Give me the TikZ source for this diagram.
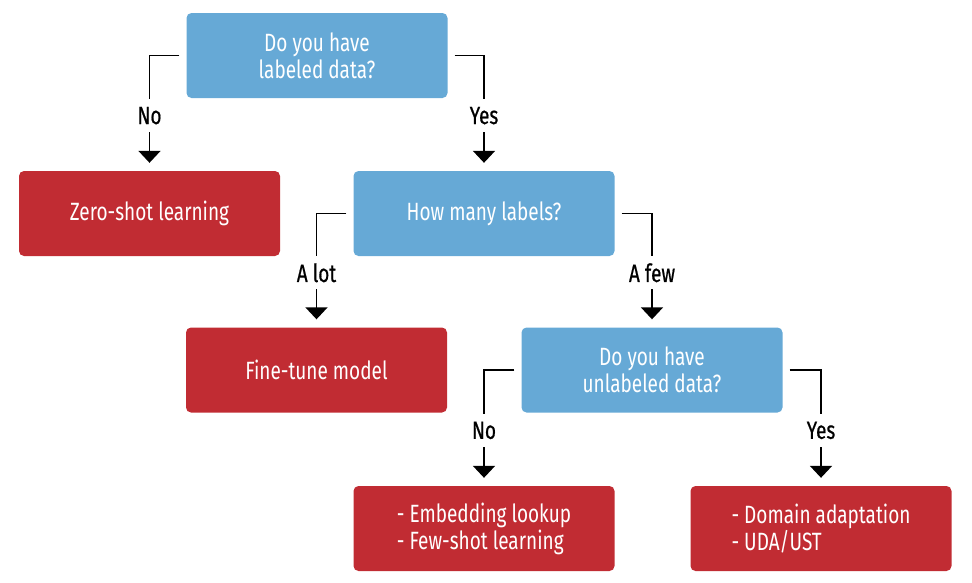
\documentclass[tikz,border=0pt]{standalone}
\usepackage{fontspec}
\setmainfont{Fira Sans}[FakeStretch=0.76]
\newfontfamily\answerfont{Fira Sans}[FakeStretch=0.76, FakeBold=0.6]
\usetikzlibrary{arrows.meta,positioning}

\definecolor{askblue}{RGB}{102,169,214}
\definecolor{pickred}{RGB}{193,44,51}

\tikzset{
  ask/.style={fill=askblue, rounded corners=5pt, minimum width=261pt,
    minimum height=85pt, text=white, align=center,
    font=\fontsize{25}{27}\selectfont},
  pick/.style={ask, fill=pickred},
  flow/.style={line width=1.9pt, -{Triangle[width=22pt,length=12pt]}},
  answer/.style={pos=0.78, fill=white, inner sep=0pt, minimum height=33pt,
    font=\answerfont\fontsize{25}{27}\selectfont}
}

\begin{document}
\begin{tikzpicture}[x=1pt,y=-1pt]

\useasboundingbox (0,0) rectangle (972,582);

\node[ask] (q1) at (317,55.5) {Do you have\\labeled data?};
\node[pick] (zero) at (149.5,213.5) {Zero-shot learning};
\node[ask] (q2) at (484,213.5) {How many labels?};
\node[pick] (tune) at (316.5,370) {Fine-tune model};
\node[ask] (q3) at (652,370) {Do you have\\unlabeled data?};
\node[pick, align=left] (embed) at (484,528.5) {- Embedding lookup\\- Few-shot learning};
\node[pick, align=left] (domain) at (821,528.5) {- Domain adaptation\\- UDA/UST};

\draw[flow] ([xshift=-7pt]q1.west) -| node[answer] (q1no) {No} ([yshift=8pt]zero.north);
\draw[flow] ([xshift=7pt]q1.east) -| node[answer] (q1yes) {Yes} ([yshift=8pt]q2.north);
\draw[flow] ([xshift=-7pt]q2.west) -| node[answer] (q2lot) {A lot} ([yshift=8pt]tune.north);
\draw[flow] ([xshift=7pt]q2.east) -| node[answer] (q2few) {A few} ([yshift=8pt]q3.north);
\draw[flow] ([xshift=-7pt]q3.west) -| node[answer] (q3no) {No} ([yshift=8pt]embed.north);
\draw[flow] ([xshift=7pt]q3.east) -| node[answer] (q3yes) {Yes} ([yshift=8pt]domain.north);

\end{tikzpicture}
\end{document}
